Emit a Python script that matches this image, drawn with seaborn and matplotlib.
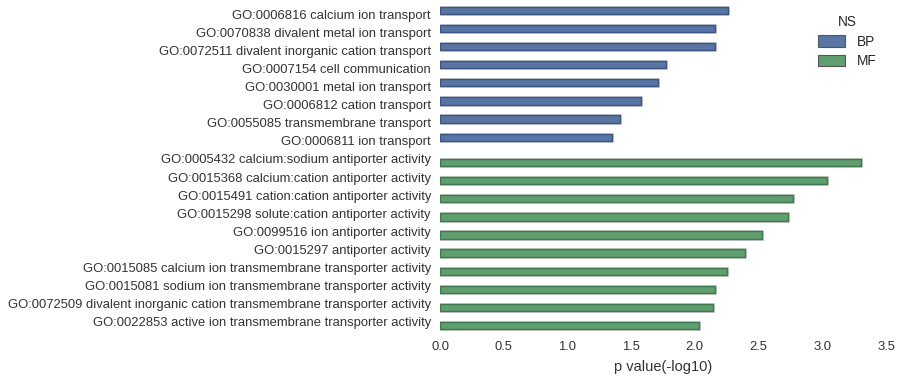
import matplotlib
matplotlib.use("Agg")
import matplotlib.pyplot as plt
import matplotlib.patheffects as pe
import seaborn as sns
import pandas as pd

bp_terms = [
    "GO:0006816 calcium ion transport",
    "GO:0070838 divalent metal ion transport",
    "GO:0072511 divalent inorganic cation transport",
    "GO:0007154 cell communication",
    "GO:0030001 metal ion transport",
    "GO:0006812 cation transport",
    "GO:0055085 transmembrane transport",
    "GO:0006811 ion transport",
]
bp_values = [2.26, 2.16, 2.16, 1.77, 1.71, 1.58, 1.41, 1.35]

mf_terms = [
    "GO:0005432 calcium:sodium antiporter activity",
    "GO:0015368 calcium:cation antiporter activity",
    "GO:0015491 cation:cation antiporter activity",
    "GO:0015298 solute:cation antiporter activity",
    "GO:0099516 ion antiporter activity",
    "GO:0015297 antiporter activity",
    "GO:0015085 calcium ion transmembrane transporter activity",
    "GO:0015081 sodium ion transmembrane transporter activity",
    "GO:0072509 divalent inorganic cation transmembrane transporter activity",
    "GO:0022853 active ion transmembrane transporter activity",
]
mf_values = [3.30, 3.04, 2.77, 2.73, 2.53, 2.39, 2.25, 2.16, 2.14, 2.03]

df = pd.DataFrame({
    "term": bp_terms + mf_terms,
    "value": bp_values + mf_values,
    "NS": ["BP"] * len(bp_terms) + ["MF"] * len(mf_terms),
})

sns.set_style("white")
plt.rcParams["font.family"] = ["Liberation Sans", "DejaVu Sans"]

fig = plt.figure(figsize=(9.02, 3.79), dpi=100)
ax = fig.add_axes([440 / 902, 1 - 331 / 379, 446 / 902, 326 / 379])

sns.barplot(data=df, y="term", x="value", hue="NS", order=bp_terms + mf_terms,
            hue_order=["BP", "MF"], palette=["#4C72B0", "#55A868"],
            dodge=True, ax=ax, linewidth=1)

edge = {"BP": "#3b5685", "MF": "#3f7a4f"}
for cont, ns in zip(ax.containers, ["BP", "MF"]):
    for p in cont:
        p.set_edgecolor(edge[ns])
        p.set_linewidth(1)
        p.set_path_effects([pe.Stroke(linewidth=2.2, foreground="#d0d0d0"), pe.Normal()])

ax.set_xlim(0, 3.5)
ax.set_ylim(17.5, -0.5)
ax.set_ylabel("")
ax.set_xlabel("p value(-log10)", fontsize=10.5, color="#333333", labelpad=5)
ax.tick_params(axis="both", labelsize=9.4, colors="#333333", length=0)
ax.tick_params(axis="x", pad=7)
ax.tick_params(axis="y", pad=6.5)
for s in ax.spines.values():
    s.set_visible(False)

leg = ax.legend(title="NS", loc="upper right", bbox_to_anchor=(1.007, 1.006), frameon=False,
                fontsize=9.8, title_fontsize=9.8, handlelength=2.0, handleheight=0.95,
                labelspacing=0.4, handletextpad=0.9)
for h in leg.legend_handles:
    h.set_path_effects([])
    h.set_edgecolor("#555555")
    h.set_linewidth(0.8)

fig.savefig("out.png", dpi=100)
